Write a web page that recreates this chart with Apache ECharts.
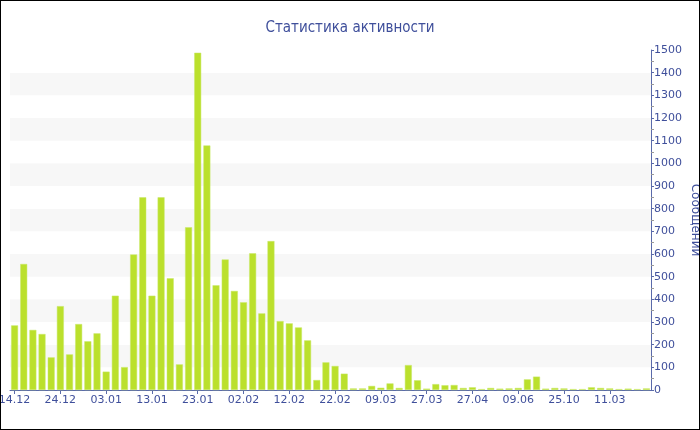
<!DOCTYPE html>
<html>
<head>
<meta charset="utf-8">
<script src="https://cdn.jsdelivr.net/npm/echarts@6/dist/echarts.min.js"></script>
<style>
html,body{margin:0;padding:0;background:#fff;}
#c{width:700px;height:430px;border:1px solid #000;box-sizing:border-box;}
</style>
</head>
<body>
<div id="c"></div>
<script>
const titleText = 'Статистика активности';
const yAxisName = 'Сообщений';
const categories = [
  '14.12','16.12','18.12','20.12','22.12','24.12','26.12','28.12','30.12','01.01',
  '03.01','05.01','07.01','09.01','11.01','13.01','15.01','17.01','19.01','21.01',
  '23.01','25.01','27.01','29.01','31.01','02.02','04.02','06.02','08.02','10.02',
  '12.02','14.02','16.02','18.02','20.02','22.02','24.02','26.02','28.02','04.03',
  '09.03','11.03','15.03','19.03','23.03','27.03','31.03','06.04','12.04','20.04',
  '27.04','05.05','15.05','23.05','31.05','09.06','19.06','05.07','23.08','16.09',
  '25.10','10.11','02.12','27.12','10.02','11.03','30.03','22.04','14.05','06.06'
];
const messages = [
  285, 556, 265, 247, 144, 370, 157, 291, 215, 250,
  81, 416, 101, 598, 850, 416, 850, 493, 113, 718,
  1488, 1079, 462, 576, 437, 387, 603, 338, 657, 304,
  294, 276, 219, 44, 122, 106, 72, 7, 7, 18,
  10, 29, 9, 110, 43, 6, 26, 21, 22, 9,
  12, 4, 9, 6, 7, 9, 47, 59, 6, 9,
  7, 4, 4, 12, 9, 7, 4, 6, 4, 7
];
const yMax = 1500;
const yInterval = 100;

const textColor = '#3f4f9b';
const axisColor = '#5a6aaa';
const font = 'DejaVu Sans';

const chart = echarts.init(document.getElementById('c'), null, {renderer: 'canvas'});
chart.setOption({
  animation: false,
  backgroundColor: '#fff',
  title: {
    text: titleText,
    left: 'center',
    top: 15,
    textStyle: {color: textColor, fontSize: 15, fontWeight: 'normal', fontFamily: 'DejaVu Sans Condensed'}
  },
  grid: {left: 9, right: 48, top: 49, bottom: 39, containLabel: false, outerBoundsMode: 'none'},
  xAxis: {
    type: 'category',
    data: categories,
    axisLine: {show: true, lineStyle: {color: axisColor, width: 1}},
    axisTick: {show: true, interval: 4, alignWithLabel: true, length: 4, lineStyle: {color: axisColor}},
    axisLabel: {interval: 4, color: textColor, fontSize: 11, fontFamily: font, margin: 5, hideOverlap: false},
    splitLine: {show: false}
  },
  yAxis: {
    type: 'value',
    position: 'right',
    min: 0,
    max: yMax,
    interval: yInterval,
    name: yAxisName,
    nameLocation: 'middle',
    nameRotate: -90,
    nameGap: 38,
    nameMoveOverlap: false,
    nameTextStyle: {color: textColor, fontSize: 12, fontFamily: font},
    axisLine: {show: true, lineStyle: {color: axisColor, width: 1}},
    axisTick: {show: true, length: 3, lineStyle: {color: axisColor}},
    minorTick: {show: true, splitNumber: 2, length: 3, lineStyle: {color: '#999'}},
    axisLabel: {color: textColor, fontSize: 11, fontFamily: font, margin: 3, formatter: function (v) { return String(v); }},
    splitLine: {show: false},
    splitArea: {show: true, areaStyle: {color: ['#ffffff', '#f7f7f7']}}
  },
  series: [{
    type: 'bar',
    data: messages,
    barCategoryGap: '24%',
    itemStyle: {color: '#bbe02c', borderColor: '#c9e86a', borderWidth: 0.5}
  }]
});
</script>
</body>
</html>
